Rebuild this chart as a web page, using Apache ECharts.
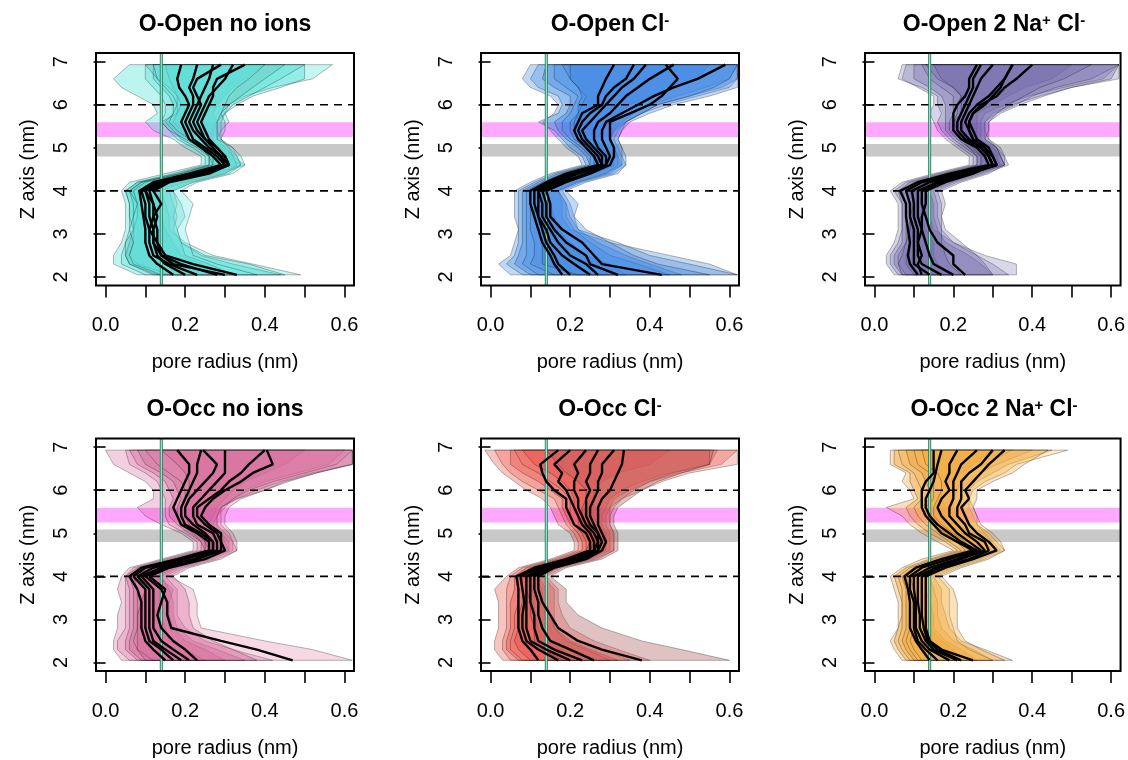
<!DOCTYPE html>
<html><head><meta charset="utf-8">
<script src="https://cdn.jsdelivr.net/npm/echarts@6/dist/echarts.min.js"></script>
<style>html,body{margin:0;padding:0;background:#fff}#c{width:1128px;height:760px}</style>
</head><body><div id="c"></div><script>
// ---------- shared data ----------
const zLevels = [2.05,2.3,2.5,2.8,3.1,3.4,3.7, 4.0,4.2,4.4,4.6,4.8, 5.0,5.2,5.4,5.6,5.8, 6.0,6.2,6.4,6.6,6.93];
const xTickValues = [0,0.1,0.2,0.3,0.4,0.5,0.6];
const xLabelValues = [0,0.2,0.4,0.6];
const yTickValues = [2,3,4,5,6,7];
const dashedLevels = [4,6];
const poreLine = 0.14;
const pinkBand = [5.25,5.59];
const grayBand = [4.8,5.09];
const panelTitles = ['O-Open no ions','O-Open Cl{s|-}','O-Open 2 Na{s|+} Cl{s|-}','O-Occ no ions','O-Occ Cl{s|-}','O-Occ 2 Na{s|+} Cl{s|-}'];

// ---------- panel 1: O-Open no ions ----------
const p1Mean = [
 [.17,.13,.11,.10,.10,.095,.09, .085,.12,.21,.29,.27, .24,.21,.20,.19,.20, .21,.20,.185,.18,.19],
 [.23,.16,.12,.11,.11,.10,.10, .09,.13,.22,.30,.28, .25,.22,.21,.20,.21, .22,.22,.21,.22,.23],
 [.28,.19,.14,.12,.12,.11,.11, .10,.14,.23,.30,.29, .26,.24,.22,.21,.22, .23,.24,.25,.26,.27],
 [.33,.22,.15,.13,.13,.12,.12, .11,.15,.24,.31,.29, .27,.25,.24,.23,.24, .25,.26,.28,.30,.32],
 [.20,.15,.13,.12,.12,.13,.12, .10,.14,.25,.31,.30, .28,.26,.25,.24,.25, .26,.27,.27,.28,.35],
 [.30,.17,.14,.13,.11,.12,.14, .12,.16,.26,.31,.30, .28,.25,.23,.22,.23, .24,.23,.22,.23,.29]];
const p1Lo = [
 [.08,.02,.02,.04,.05,.05,.05, .04,.06,.15,.24,.24, .20,.17,.12,.10,.13, .12,.08,.04,.02,.06],
 [.10,.04,.04,.05,.06,.06,.06, .05,.08,.17,.25,.25, .22,.18,.16,.14,.15, .15,.14,.12,.10,.10],
 [.13,.06,.05,.06,.07,.06,.06, .05,.08,.18,.26,.26, .23,.19,.17,.15,.17, .17,.16,.14,.12,.12],
 [.16,.08,.06,.07,.07,.07,.07, .06,.09,.19,.27,.26, .24,.21,.19,.17,.18, .18,.18,.17,.16,.15],
 [.12,.06,.05,.05,.07,.08,.08, .06,.09,.19,.26,.26, .24,.20,.16,.14,.18, .19,.18,.16,.13,.10],
 [.14,.07,.06,.07,.06,.07,.08, .07,.10,.20,.27,.27, .25,.21,.18,.16,.17, .18,.17,.15,.13,.12]];
const p1Hi = [
 [.30,.24,.19,.17,.15,.14,.14, .13,.19,.28,.34,.31, .29,.27,.27,.28,.27, .28,.30,.32,.35,.40],
 [.49,.37,.27,.20,.16,.16,.15, .14,.20,.29,.35,.32, .30,.28,.29,.31,.30, .31,.35,.42,.52,.57],
 [.44,.32,.24,.19,.17,.18,.17, .16,.21,.30,.34,.33, .31,.29,.28,.28,.30, .33,.37,.44,.50,.50],
 [.45,.36,.25,.19,.18,.17,.18, .17,.22,.30,.33,.32, .31,.29,.29,.29,.30, .32,.36,.40,.44,.50],
 [.32,.26,.20,.19,.18,.20,.19, .17,.22,.31,.34,.33, .32,.29,.30,.30,.29, .31,.34,.37,.40,.45],
 [.38,.28,.22,.21,.20,.21,.22, .19,.23,.32,.35,.34, .32,.28,.28,.28,.29, .30,.31,.33,.36,.40]];
const p1Fills = ['rgba(64,224,208,0.35)','rgba(64,224,208,0.3)','rgba(40,215,210,0.3)','rgba(72,220,210,0.3)','rgba(90,190,185,0.3)','rgba(110,235,228,0.35)'];

// ---------- panel 2: O-Open Cl- ----------
const p2Mean = [
 [.18,.16,.15,.13,.12,.11,.10, .10,.14,.19,.27,.26, .24,.22,.21,.22,.23, .27,.27,.28,.29,.31],
 [.20,.17,.16,.14,.13,.12,.11, .11,.15,.20,.28,.27, .25,.23,.22,.23,.25, .28,.29,.31,.34,.36],
 [.25,.21,.18,.15,.14,.12,.12, .12,.16,.21,.28,.28, .26,.24,.23,.25,.27, .29,.31,.33,.36,.39],
 [.27,.24,.20,.17,.15,.13,.13, .12,.17,.22,.29,.29, .27,.26,.26,.27,.30, .32,.34,.37,.40,.46],
 [.32,.25,.24,.19,.16,.14,.14, .13,.18,.24,.29,.30, .29,.28,.28,.29,.33, .37,.41,.46,.52,.59],
 [.43,.28,.26,.23,.18,.15,.15, .14,.19,.25,.30,.31, .31,.30,.30,.30,.35, .40,.43,.45,.47,.44]];
const p2Lo = [
 [.05,.02,.05,.06,.07,.06,.06, .06,.10,.15,.23,.22, .19,.17,.15,.13,.16, .17,.15,.10,.08,.10],
 [.08,.04,.06,.07,.07,.07,.07, .07,.11,.16,.24,.23, .20,.18,.16,.12,.17, .18,.17,.12,.10,.12],
 [.10,.06,.07,.08,.08,.08,.08, .08,.12,.17,.25,.24, .22,.19,.17,.16,.19, .20,.20,.16,.13,.14],
 [.12,.08,.09,.09,.09,.09,.09, .09,.13,.18,.25,.25, .23,.20,.18,.18,.20, .21,.22,.19,.16,.16],
 [.16,.10,.11,.11,.10,.10,.10, .10,.14,.19,.26,.26, .24,.21,.20,.20,.22, .23,.24,.22,.20,.18],
 [.22,.13,.13,.13,.12,.11,.11, .11,.15,.20,.27,.27, .25,.22,.21,.21,.22, .22,.23,.22,.20,.20]];
const p2Hi = [
 [.34,.30,.24,.20,.17,.16,.15, .14,.18,.26,.31,.30, .28,.27,.28,.30,.32, .35,.40,.46,.52,.55],
 [.62,.55,.45,.30,.20,.18,.18, .17,.21,.29,.33,.32, .31,.30,.31,.33,.36, .40,.47,.54,.60,.62],
 [.48,.40,.34,.27,.22,.20,.19, .17,.22,.29,.32,.32, .31,.30,.31,.34,.38, .42,.50,.58,.62,.62],
 [.45,.37,.30,.25,.21,.19,.19, .17,.22,.30,.33,.33, .32,.31,.32,.34,.38, .44,.52,.60,.62,.62],
 [.62,.50,.40,.32,.22,.21,.20, .18,.23,.31,.34,.33, .33,.32,.33,.35,.40, .46,.55,.62,.62,.62],
 [.55,.42,.36,.30,.24,.21,.22, .19,.24,.32,.34,.34, .33,.32,.33,.34,.38, .42,.50,.56,.60,.62]];
const p2Fills = ['rgba(40,125,225,0.3)','rgba(60,135,220,0.3)','rgba(40,120,225,0.3)','rgba(55,140,235,0.3)','rgba(70,130,210,0.32)','rgba(50,130,235,0.3)'];

// ---------- panel 3: O-Open 2 Na+ Cl- ----------
const p3Mean = [
 [.11,.09,.085,.09,.085,.08,.08, .065,.11,.19,.29,.28, .26,.22,.20,.20,.20, .21,.23,.24,.24,.26],
 [.14,.10,.10,.10,.10,.09,.09, .08,.12,.21,.30,.29, .27,.23,.21,.21,.22, .23,.24,.25,.25,.27],
 [.17,.12,.11,.11,.11,.10,.10, .095,.14,.22,.30,.29, .27,.24,.22,.22,.23, .24,.25,.26,.27,.30],
 [.20,.15,.14,.13,.12,.11,.11, .11,.16,.23,.31,.30, .28,.25,.24,.23,.24, .26,.29,.31,.33,.35],
 [.23,.20,.20,.16,.14,.13,.12, .12,.17,.24,.31,.30, .29,.26,.25,.24,.25, .27,.31,.33,.36,.40],
 [.12,.11,.12,.11,.12,.12,.13, .13,.18,.25,.30,.29, .28,.25,.24,.24,.25, .28,.30,.32,.33,.35]];
const p3Lo = [
 [.05,.03,.03,.05,.06,.06,.06, .04,.07,.15,.24,.24, .21,.18,.16,.15,.14, .15,.15,.11,.07,.08],
 [.06,.04,.04,.06,.07,.07,.07, .05,.08,.16,.25,.25, .22,.19,.17,.16,.17, .16,.16,.12,.06,.07],
 [.07,.05,.05,.07,.07,.07,.07, .06,.09,.17,.26,.26, .23,.20,.18,.18,.18, .18,.17,.14,.10,.10],
 [.08,.06,.06,.08,.08,.08,.08, .07,.10,.18,.27,.27, .24,.21,.19,.19,.20, .20,.20,.17,.14,.12],
 [.10,.08,.08,.09,.09,.09,.09, .08,.12,.19,.27,.27, .25,.22,.20,.20,.21, .21,.22,.20,.17,.15],
 [.07,.06,.07,.08,.09,.09,.10, .09,.13,.20,.26,.26, .24,.22,.21,.20,.22, .22,.22,.20,.16,.13]];
const p3Hi = [
 [.20,.16,.15,.15,.13,.12,.12, .11,.16,.24,.32,.31, .29,.26,.26,.26,.26, .30,.34,.38,.45,.50],
 [.36,.36,.28,.20,.15,.14,.14, .13,.18,.25,.33,.32, .30,.27,.27,.27,.28, .33,.39,.48,.58,.62],
 [.30,.27,.24,.18,.16,.15,.15, .14,.19,.26,.33,.32, .31,.28,.28,.28,.30, .35,.42,.50,.62,.62],
 [.34,.30,.26,.20,.17,.16,.16, .15,.20,.27,.33,.33, .31,.29,.28,.28,.31, .36,.40,.46,.55,.62],
 [.30,.28,.26,.22,.18,.17,.17, .16,.21,.28,.34,.33, .32,.29,.29,.29,.32, .37,.43,.50,.60,.62],
 [.22,.19,.18,.17,.17,.17,.18, .17,.22,.29,.33,.32, .31,.28,.29,.29,.31, .34,.38,.42,.48,.55]];
const p3Fills = ['rgba(95,88,160,0.26)','rgba(105,98,170,0.25)','rgba(95,88,160,0.26)','rgba(115,105,175,0.25)','rgba(95,88,160,0.26)','rgba(100,92,165,0.26)'];

// ---------- panel 4: O-Occ no ions ----------
const p4Mean = [
 [.15,.12,.10,.09,.09,.09,.08, .06,.09,.18,.26,.26, .23,.19,.18,.17,.18, .19,.20,.21,.21,.18],
 [.17,.14,.11,.10,.10,.10,.10, .07,.10,.19,.27,.27, .24,.20,.19,.19,.20, .21,.22,.23,.23,.24],
 [.19,.15,.12,.11,.11,.11,.11, .08,.12,.20,.27,.27, .25,.22,.20,.20,.21, .23,.25,.27,.28,.245],
 [.21,.17,.14,.12,.12,.12,.12, .09,.14,.22,.28,.28, .27,.23,.22,.22,.24, .26,.28,.30,.30,.30],
 [.47,.38,.29,.165,.155,.155,.14, .10,.15,.23,.29,.29, .28,.25,.23,.23,.26, .29,.31,.34,.36,.40],
 [.23,.20,.17,.14,.13,.14,.15, .11,.16,.25,.30,.29, .29,.26,.24,.25,.27, .30,.34,.37,.42,.405]];
const p4Lo = [
 [.04,.02,.02,.03,.03,.04,.03, .04,.06,.14,.22,.22, .19,.14,.10,.08,.12, .12,.10,.06,.02,.00],
 [.06,.03,.03,.05,.05,.05,.05, .05,.07,.15,.23,.23, .20,.16,.15,.15,.15, .14,.13,.10,.06,.05],
 [.08,.05,.05,.06,.06,.06,.06, .05,.08,.16,.24,.24, .21,.18,.16,.16,.17, .16,.15,.12,.08,.06],
 [.09,.06,.06,.07,.07,.07,.07, .06,.09,.17,.25,.24, .22,.19,.18,.18,.19, .18,.17,.14,.10,.08],
 [.12,.08,.07,.08,.08,.08,.08, .07,.10,.18,.25,.25, .23,.20,.19,.19,.20, .20,.19,.16,.13,.10],
 [.10,.08,.08,.08,.08,.09,.10, .07,.11,.19,.26,.25, .24,.21,.20,.20,.21, .21,.21,.20,.18,.14]];
const p4Hi = [
 [.25,.20,.16,.15,.14,.14,.14, .11,.15,.24,.30,.29, .27,.26,.27,.28,.30, .32,.35,.40,.45,.50],
 [.30,.25,.20,.17,.16,.16,.17, .13,.17,.25,.31,.30, .28,.27,.28,.30,.32, .35,.40,.48,.56,.60],
 [.35,.28,.22,.18,.17,.17,.16, .14,.18,.26,.31,.31, .29,.28,.28,.29,.33, .38,.44,.52,.62,.62],
 [.42,.32,.25,.20,.18,.18,.18, .15,.19,.27,.32,.32, .30,.28,.28,.29,.33, .40,.46,.53,.62,.62],
 [.62,.52,.40,.24,.23,.23,.22, .16,.20,.28,.33,.32, .31,.29,.29,.29,.32, .36,.42,.50,.58,.62],
 [.38,.32,.27,.22,.21,.21,.20, .17,.21,.29,.33,.33, .32,.30,.30,.31,.34, .40,.45,.53,.62,.62]];
const p4Fills = ['rgba(210,80,145,0.27)','rgba(220,105,160,0.26)','rgba(205,80,140,0.27)','rgba(185,90,130,0.28)','rgba(228,125,170,0.3)','rgba(210,80,145,0.27)'];

// ---------- panel 5: O-Occ Cl- ----------
const p5Mean = [
 [.12,.10,.08,.07,.07,.07,.07, .065,.11,.19,.25,.25, .24,.21,.20,.19,.19, .16,.14,.13,.125,.17],
 [.17,.12,.09,.08,.08,.085,.08, .075,.12,.20,.26,.26, .25,.23,.22,.21,.20, .19,.17,.18,.16,.20],
 [.20,.14,.10,.09,.09,.09,.09, .09,.13,.21,.26,.27, .26,.24,.23,.22,.22, .21,.21,.22,.21,.24],
 [.23,.16,.12,.11,.11,.10,.10, .10,.14,.22,.27,.27, .27,.25,.24,.24,.24, .25,.24,.25,.25,.27],
 [.26,.20,.15,.13,.12,.12,.11, .11,.15,.23,.27,.28, .27,.26,.25,.25,.26, .27,.27,.28,.28,.31],
 [.38,.28,.22,.17,.15,.13,.12, .12,.16,.24,.28,.29, .28,.27,.27,.27,.28, .30,.31,.32,.33,.335]];
const p5Lo = [
 [.03,.01,.01,.02,.02,.02,.01, .04,.07,.15,.21,.21, .20,.17,.16,.15,.13, .09,.06,.03,.01,-.015],
 [.05,.03,.03,.04,.04,.04,.04, .05,.08,.16,.22,.22, .21,.19,.18,.17,.16, .12,.08,.05,.03,.01],
 [.07,.04,.04,.05,.05,.05,.06, .06,.09,.17,.23,.23, .22,.20,.19,.18,.18, .15,.12,.08,.05,.05],
 [.08,.05,.05,.06,.06,.07,.07, .07,.10,.18,.24,.24, .23,.21,.20,.20,.20, .18,.15,.12,.08,.06],
 [.10,.07,.06,.07,.07,.08,.08, .08,.11,.19,.24,.25, .24,.22,.22,.21,.21, .20,.18,.15,.11,.08],
 [.18,.13,.11,.11,.10,.10,.09, .09,.13,.20,.25,.26, .25,.23,.23,.23,.24, .24,.22,.19,.17,.14]];
const p5Hi = [
 [.22,.18,.14,.12,.11,.11,.11, .09,.14,.23,.28,.28, .27,.26,.26,.26,.26, .26,.28,.32,.40,.45],
 [.35,.28,.22,.17,.14,.13,.13, .11,.15,.24,.29,.29, .29,.28,.28,.29,.30, .33,.38,.45,.55,.57],
 [.32,.25,.20,.16,.15,.14,.14, .12,.16,.25,.30,.30, .30,.29,.29,.30,.31, .35,.40,.48,.58,.62],
 [.30,.24,.19,.16,.16,.16,.16, .13,.17,.26,.31,.31, .31,.30,.30,.31,.33, .38,.43,.50,.62,.62],
 [.40,.32,.26,.20,.18,.17,.17, .14,.18,.27,.31,.31, .31,.30,.30,.30,.33, .36,.40,.46,.55,.55],
 [.60,.48,.38,.28,.22,.19,.19, .15,.19,.28,.32,.32, .32,.31,.31,.32,.35, .38,.42,.48,.55,.56]];
const p5Fills = ['rgba(232,60,48,0.3)','rgba(240,85,72,0.3)','rgba(228,58,48,0.3)','rgba(240,95,85,0.3)','rgba(232,62,55,0.3)','rgba(175,95,95,0.38)'];

// ---------- panel 6: O-Occ 2 Na+ Cl- ----------
const p6Mean = [
 [.14,.12,.105,.09,.09,.09,.085, .076,.105,.17,.25,.21, .17,.15,.13,.12,.12, .12,.13,.15,.15,.15],
 [.16,.13,.11,.10,.10,.10,.09, .09,.12,.19,.26,.22, .19,.16,.14,.13,.13, .14,.15,.155,.16,.17],
 [.19,.14,.12,.105,.105,.105,.10, .10,.14,.21,.27,.24, .21,.19,.17,.16,.17, .19,.18,.19,.19,.21],
 [.21,.15,.13,.115,.115,.11,.11, .11,.155,.22,.28,.26, .23,.21,.19,.19,.20, .20,.20,.21,.22,.26],
 [.22,.16,.135,.125,.12,.12,.12, .12,.165,.24,.29,.28, .24,.23,.21,.21,.22, .22,.22,.24,.27,.30],
 [.25,.17,.14,.13,.13,.13,.13, .13,.18,.25,.31,.29, .26,.24,.23,.22,.24, .23,.25,.27,.29,.33]];
const p6Lo = [
 [.07,.05,.04,.06,.06,.06,.05, .04,.07,.12,.20,.16, .12,.09,.07,.03,.10, .09,.07,.08,.04,.04],
 [.08,.06,.05,.06,.07,.07,.06, .05,.08,.14,.21,.18, .14,.11,.09,.08,.11, .10,.09,.09,.05,.05],
 [.09,.07,.06,.07,.07,.07,.07, .06,.09,.15,.22,.19, .16,.13,.11,.10,.12, .12,.11,.10,.07,.06],
 [.10,.08,.07,.08,.08,.08,.08, .07,.10,.16,.23,.21, .18,.15,.13,.12,.14, .14,.13,.12,.09,.08],
 [.11,.09,.08,.09,.09,.09,.09, .08,.11,.17,.24,.22, .19,.16,.14,.13,.15, .15,.15,.14,.11,.10],
 [.12,.10,.09,.10,.10,.10,.10, .09,.12,.18,.25,.23, .20,.17,.15,.15,.16, .17,.17,.16,.13,.12]];
const p6Hi = [
 [.22,.20,.17,.14,.13,.13,.12, .11,.15,.22,.29,.26, .22,.20,.19,.18,.17, .17,.19,.22,.25,.30],
 [.26,.22,.18,.15,.15,.14,.13, .12,.17,.24,.30,.27, .24,.22,.21,.20,.20, .21,.22,.24,.28,.35],
 [.30,.25,.20,.17,.16,.16,.15, .14,.19,.26,.31,.29, .26,.24,.23,.22,.22, .22,.24,.27,.31,.40],
 [.35,.28,.22,.19,.18,.17,.17, .15,.20,.27,.32,.30, .28,.26,.25,.24,.24, .24,.26,.30,.34,.45],
 [.30,.24,.21,.20,.19,.19,.19, .16,.21,.28,.33,.31, .29,.26,.26,.25,.24, .25,.28,.33,.36,.49],
 [.33,.27,.23,.21,.21,.21,.20, .17,.22,.29,.33,.32, .30,.27,.26,.25,.26, .26,.30,.35,.38,.44]];
const p6Fills = ['rgba(240,160,45,0.32)','rgba(236,152,35,0.32)','rgba(245,175,65,0.32)','rgba(232,150,40,0.32)','rgba(250,190,85,0.32)','rgba(240,165,55,0.32)'];

// ---------- layout / build ----------
const FONT = '"Liberation Sans", Arial, Helvetica, sans-serif';
const gridLefts = [96, 481, 865];
const gridTops = [53, 438.5];
const gridW = 258, gridH = 232.6;
const panels = [
  {mean:p1Mean, lo:p1Lo, hi:p1Hi, fills:p1Fills},
  {mean:p2Mean, lo:p2Lo, hi:p2Hi, fills:p2Fills},
  {mean:p3Mean, lo:p3Lo, hi:p3Hi, fills:p3Fills},
  {mean:p4Mean, lo:p4Lo, hi:p4Hi, fills:p4Fills},
  {mean:p5Mean, lo:p5Lo, hi:p5Hi, fills:p5Fills},
  {mean:p6Mean, lo:p6Lo, hi:p6Hi, fills:p6Fills}
];

const grids = [], xAxes = [], yAxes = [], series = [], graphics = [];
const axisText = {fontSize:20, color:'#000', fontFamily:FONT};

panels.forEach((P, p) => {
  const left = gridLefts[p % 3], top = gridTops[Math.floor(p / 3)];
  grids.push({left:left, top:top, width:gridW, height:gridH, show:false, containLabel:false});
  xAxes.push({
    type:'value', gridIndex:p, min:-0.024, max:0.624,
    splitLine:{show:false}, axisLine:{show:false},
    axisTick:{show:true, customValues:xTickValues, length:12, lineStyle:{color:'#000', width:1.6}},
    axisLabel:Object.assign({customValues:xLabelValues, margin:30, formatter:v => Number(v).toFixed(1)}, axisText),
    name:'pore radius (nm)', nameLocation:'middle', nameGap:67, nameTextStyle:axisText
  });
  yAxes.push({
    type:'value', gridIndex:p, min:1.8, max:7.2,
    splitLine:{show:false}, axisLine:{show:false},
    axisTick:{show:true, customValues:yTickValues, length:12, lineStyle:{color:'#000', width:1.6}},
    axisLabel:Object.assign({customValues:yTickValues, rotate:90, margin:25, formatter:v => String(v)}, axisText),
    name:'Z axis (nm)', nameLocation:'middle', nameGap:58, nameTextStyle:axisText
  });

  // background bands
  series.push({
    type:'custom', xAxisIndex:p, yAxisIndex:p, z:1, silent:true, animation:false,
    data:[[0.3, 4.5]],
    renderItem:(params, api) => {
      const cs = params.coordSys;
      const pt = api.coord([0, pinkBand[1]])[1], pb = api.coord([0, pinkBand[0]])[1];
      const gt = api.coord([0, grayBand[1]])[1], gb = api.coord([0, grayBand[0]])[1];
      return {type:'group', children:[
        {type:'rect', shape:{x:cs.x, y:pt, width:cs.width, height:pb - pt}, style:{fill:'#FFA8FF'}},
        {type:'rect', shape:{x:cs.x, y:gt, width:cs.width, height:gb - gt}, style:{fill:'#C8C8C8'}}
      ]};
    }
  });

  // ribbons
  series.push({
    type:'custom', xAxisIndex:p, yAxisIndex:p, z:2, silent:true, animation:false, clip:true,
    data:P.mean.map((_, k) => [0.3, 4.5, k]),
    renderItem:(params, api) => {
      const k = api.value(2);
      const pts = [];
      for (let i = 0; i < zLevels.length; i++) pts.push(api.coord([P.lo[k][i], zLevels[i]]));
      for (let i = zLevels.length - 1; i >= 0; i--) pts.push(api.coord([P.hi[k][i], zLevels[i]]));
      return {type:'polygon', shape:{points:pts}, style:{fill:P.fills[k], stroke:'rgba(0,0,0,0.4)', lineWidth:0.7}};
    }
  });

  // reference lines (dashed levels + pore radius line)
  series.push({
    type:'custom', xAxisIndex:p, yAxisIndex:p, z:3, silent:true, animation:false,
    data:[[0.3, 4.5]],
    renderItem:(params, api) => {
      const cs = params.coordSys;
      const children = dashedLevels.map(v => {
        const y = api.coord([0, v])[1];
        return {type:'line', shape:{x1:cs.x, y1:y, x2:cs.x + cs.width, y2:y}, style:{stroke:'#000', lineWidth:1.6, lineDash:[8,6]}};
      });
      const vx = api.coord([poreLine, 4])[0];
      children.push({type:'line', shape:{x1:vx, y1:cs.y, x2:vx, y2:cs.y + cs.height}, style:{stroke:'#2E7560', lineWidth:3}});
      children.push({type:'line', shape:{x1:vx, y1:cs.y, x2:vx, y2:cs.y + cs.height}, style:{stroke:'#8FF5D2', lineWidth:1.2}});
      return {type:'group', children:children};
    }
  });

  // mean lines
  P.mean.forEach(m => {
    series.push({
      type:'line', xAxisIndex:p, yAxisIndex:p, z:4, silent:true, animation:false,
      data:m.map((v, i) => [v, zLevels[i]]),
      symbol:'none', showSymbol:false,
      lineStyle:{color:'#000', width:2.4}
    });
  });

  // frame
  series.push({
    type:'custom', xAxisIndex:p, yAxisIndex:p, z:6, silent:true, animation:false,
    data:[[0.3, 4.5]],
    renderItem:(params) => {
      const cs = params.coordSys;
      return {type:'rect', shape:{x:cs.x, y:cs.y, width:cs.width, height:cs.height}, style:{fill:null, stroke:'#000', lineWidth:2}};
    }
  });

  // title
  graphics.push({
    type:'text', x:left + gridW / 2, y:top - 28.5,
    style:{
      text:panelTitles[p], fill:'#000', fontSize:23, fontWeight:'bold', fontFamily:FONT,
      align:'center', verticalAlign:'middle',
      rich:{s:{fontSize:15, fontWeight:'bold', fontFamily:FONT, fill:'#000', verticalAlign:'top', lineHeight:11}}
    }
  });
});

const chart = echarts.init(document.getElementById('c'), null, {renderer:'canvas'});
chart.setOption({
  animation:false,
  backgroundColor:'#fff',
  textStyle:{fontFamily:FONT},
  grid:grids, xAxis:xAxes, yAxis:yAxes, series:series, graphic:graphics
});
</script></body></html>
